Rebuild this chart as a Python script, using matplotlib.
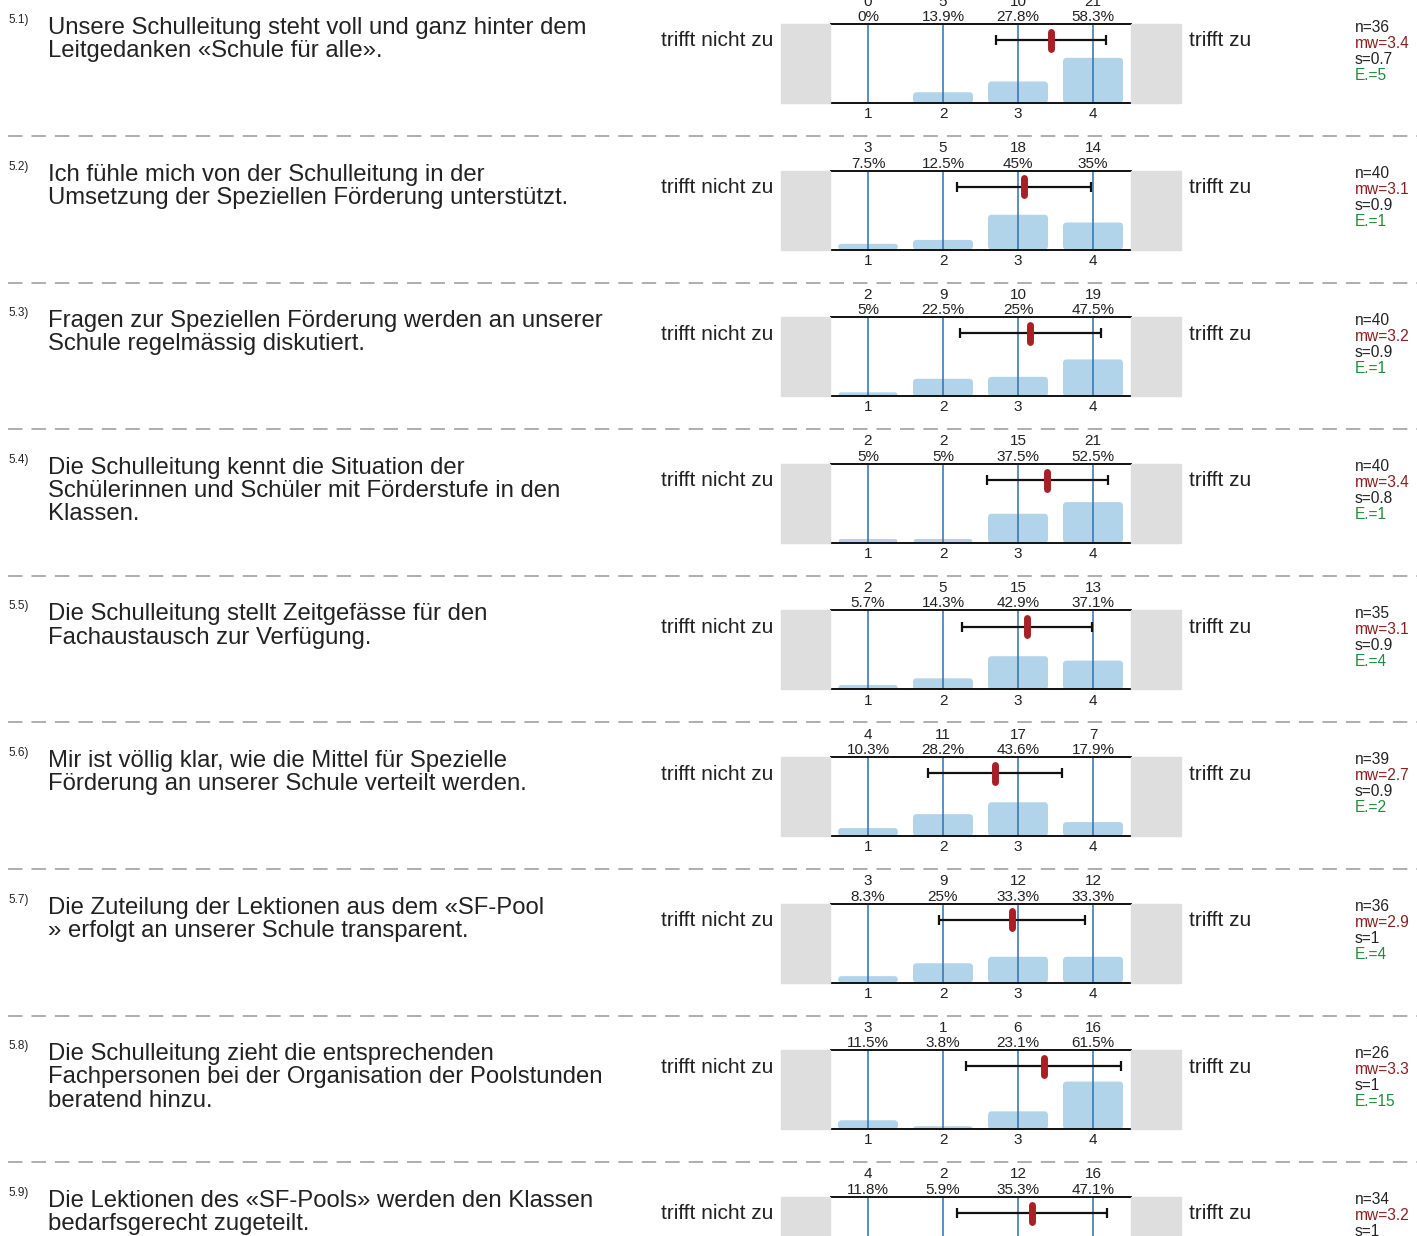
import matplotlib
matplotlib.use("Agg")
import matplotlib.pyplot as plt
from matplotlib.patches import FancyBboxPatch, Rectangle
from matplotlib.lines import Line2D

plt.rcParams["font.family"] = ["Liberation Sans", "DejaVu Sans"]

# ---- data ----
ids = ["5.1)", "5.2)", "5.3)", "5.4)", "5.5)", "5.6)", "5.7)", "5.8)", "5.9)"]
questions = [
    "Unsere Schulleitung steht voll und ganz hinter dem\nLeitgedanken «Schule für alle».",
    "Ich fühle mich von der Schulleitung in der\nUmsetzung der Speziellen Förderung unterstützt.",
    "Fragen zur Speziellen Förderung werden an unserer\nSchule regelmässig diskutiert.",
    "Die Schulleitung kennt die Situation der\nSchülerinnen und Schüler mit Förderstufe in den\nKlassen.",
    "Die Schulleitung stellt Zeitgefässe für den\nFachaustausch zur Verfügung.",
    "Mir ist völlig klar, wie die Mittel für Spezielle\nFörderung an unserer Schule verteilt werden.",
    "Die Zuteilung der Lektionen aus dem «SF-Pool\n» erfolgt an unserer Schule transparent.",
    "Die Schulleitung zieht die entsprechenden\nFachpersonen bei der Organisation der Poolstunden\nberatend hinzu.",
    "Die Lektionen des «SF-Pools» werden den Klassen\nbedarfsgerecht zugeteilt.",
]
counts = [
    [0, 5, 10, 21],
    [3, 5, 18, 14],
    [2, 9, 10, 19],
    [2, 2, 15, 21],
    [2, 5, 15, 13],
    [4, 11, 17, 7],
    [3, 9, 12, 12],
    [3, 1, 6, 16],
    [4, 2, 12, 16],
]
means = [3.44, 3.08, 3.16, 3.39, 3.12, 2.69, 2.92, 3.34, 3.18]
sds = [0.73, 0.89, 0.94, 0.81, 0.87, 0.89, 0.97, 1.03, 1.00]
abstentions = [5, 1, 1, 1, 4, 2, 4, 15, 2]
scale = [1, 2, 3, 4]
left_label = "trifft nicht zu"
right_label = "trifft zu"

# ---- layout in pixels ----
W, H = 1417, 1236
PITCH = 146.6
TOP0 = 24
BOX_H = 79
PX0, PX1 = 830.5, 1130.5

BAR_C = "#b2d4ea"
LINE_C = "#2a72b5"
GREY_C = "#dedede"
RED_C = "#a82026"
MW_C = "#8b1f1f"
E_C = "#1e8a3c"
TXT_C = "#222222"

fig = plt.figure(figsize=(W / 100, H / 100), dpi=100)


def fx(x):
    return x / W


def fy(y):
    return 1 - y / H


def fmt(v):
    return f"{round(v, 1):g}"


for i in range(len(ids)):
    top = TOP0 + i * PITCH
    bot = top + BOX_H
    n = sum(counts[i])
    pct = [100 * c / n for c in counts[i]]

    # grey end boxes
    for x0, x1 in [(781, 830), (1131, 1181)]:
        fig.patches.append(Rectangle((fx(x0), fy(bot)), fx(x1 - x0), BOX_H / H,
                                     transform=fig.transFigure, color=GREY_C, zorder=0))

    ax = fig.add_axes([fx(PX0), fy(bot), fx(PX1 - PX0), BOX_H / H])
    ax.set_xlim(0.5, 4.5)
    ax.set_ylim(0, 1.02)
    for sp in ["left", "right"]:
        ax.spines[sp].set_visible(False)
    for sp in ["top", "bottom"]:
        ax.spines[sp].set_linewidth(1.4)
        ax.spines[sp].set_color("#111111")
    ax.set_yticks([])
    ax.set_xticks(scale)
    ax.set_xticklabels([str(s) for s in scale])
    ax.tick_params(axis="x", length=0, pad=3, labelsize=11, labelcolor=TXT_C)

    for s, p in zip(scale, pct):
        h = p / 100
        if h > 0:
            ax.add_patch(FancyBboxPatch((s - 0.4, 0), 0.8, h,
                                        boxstyle="round,pad=0,rounding_size=0.05",
                                        fc=BAR_C, ec="none", zorder=1))
        ax.axvline(s, color=LINE_C, lw=1.1, zorder=2)
        ax.text(s, 1.02, f"{counts[i][s - 1]}\n{fmt(p)}%", ha="center", va="bottom",
                fontsize=11, color=TXT_C, linespacing=1.12, clip_on=False)

    yb = 0.81
    ax.errorbar(means[i], yb, xerr=sds[i], fmt="none", ecolor="#111111",
                elinewidth=1.6, capsize=3.8, capthick=1.6, zorder=3)
    ax.plot([means[i], means[i]], [yb - 0.11, yb + 0.11], color=RED_C, lw=5,
            solid_capstyle="round", zorder=4)

    # labels
    fig.text(fx(773), fy(top + 17), left_label, ha="right", va="center",
             fontsize=15, color=TXT_C)
    fig.text(fx(1189), fy(top + 17), right_label, ha="left", va="center",
             fontsize=15, color=TXT_C)
    fig.text(fx(8), fy(top - 4), ids[i], ha="left", va="center", fontsize=8.5, color=TXT_C)
    fig.text(fx(48), fy(top - 7), questions[i], ha="left", va="top",
             fontsize=17.2, color=TXT_C, linespacing=1.07)

    stats = [(f"n={n}", TXT_C), (f"mw={fmt(means[i])}", MW_C),
             (f"s={fmt(sds[i])}", TXT_C), (f"E.={abstentions[i]}", E_C)]
    for k, (t, c) in enumerate(stats):
        fig.text(fx(1355), fy(top + 3 + 16 * k), t, ha="left", va="center",
                 fontsize=11.2, color=c)

    # dashed separator
    if i < len(ids) - 1:
        ysep = fy(top + 112)
        fig.add_artist(Line2D([fx(8), 1], [ysep, ysep], transform=fig.transFigure,
                              color="#a8a8a8", lw=1.3, dashes=(8, 5)))

fig.savefig("out.png", dpi=100)
